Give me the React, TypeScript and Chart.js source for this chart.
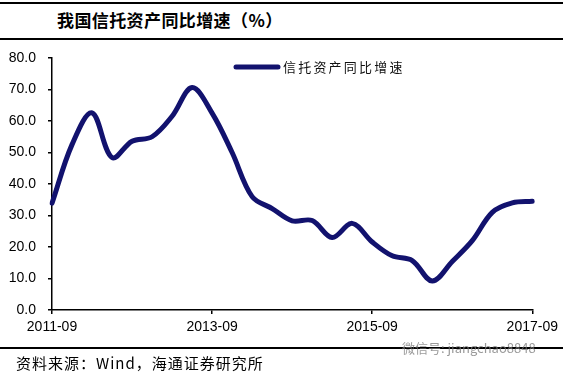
import React, { useEffect, useRef } from "react";
import { Chart, registerables } from "chart.js";

Chart.register(...registerables);

const titleText = "我国信托资产同比增速（%）";
const seriesName = "信托资产同比增速";
const sourceText = "资料来源：Wind，海通证券研究所";
const watermarkText = "微信号: jiangchao8848";

const quarters = [
  "2011-09", "2011-12", "2012-03", "2012-06", "2012-09", "2012-12",
  "2013-03", "2013-06", "2013-09", "2013-12", "2014-03", "2014-06",
  "2014-09", "2014-12", "2015-03", "2015-06", "2015-09", "2015-12",
  "2016-03", "2016-06", "2016-09", "2016-12", "2017-03", "2017-06",
  "2017-09",
];

const growth = [
  33.9, 52.5, 62.6, 48.4, 53.6, 55.0,
  61.5, 70.6, 62.5, 50.0, 36.0, 32.2,
  28.3, 28.4, 23.0, 27.5, 21.6, 17.2,
  15.7, 9.2, 15.4, 22.0, 31.0, 34.0,
  34.5,
];

const shownTickLabels = ["2011-09", "2013-09", "2015-09", "2017-09"];
const yMin = 0;
const yMax = 80;
const yStep = 10;

const LINE_COLOR = "#12126e";

const legendPlugin = {
  id: "insideLegend",
  afterDraw(chart: any) {
    const ctx = chart.ctx;
    const a = chart.chartArea;
    const y = a.top + 9;
    ctx.save();
    ctx.strokeStyle = LINE_COLOR;
    ctx.lineWidth = 5;
    ctx.lineCap = "round";
    ctx.beginPath();
    ctx.moveTo(a.left + 184, y);
    ctx.lineTo(a.left + 226, y);
    ctx.stroke();
    ctx.fillStyle = "#111";
    ctx.font = '13px "Noto Sans CJK SC"';
    ctx.textBaseline = "middle";
    ctx.textAlign = "left";
    const chars = Array.from(seriesName);
    chars.forEach((c, i) => {
      ctx.fillText(c, a.left + 231 + i * 15.2, y);
    });
    ctx.restore();
  },
};

export default function App() {
  const canvasRef = useRef<HTMLCanvasElement | null>(null);

  useEffect(() => {
    if (!canvasRef.current) return;
    const chart = new Chart(canvasRef.current, {
      type: "line",
      data: {
        labels: quarters,
        datasets: [
          {
            label: seriesName,
            data: growth,
            borderColor: LINE_COLOR,
            backgroundColor: LINE_COLOR,
            borderWidth: 5,
            pointRadius: 0,
            tension: 0.35,
            borderCapStyle: "round",
            borderJoinStyle: "round",
            fill: false,
          },
        ],
      },
      options: {
        animation: false,
        responsive: false,
        maintainAspectRatio: false,
        layout: { padding: { left: 0, right: 30, top: 58, bottom: 0 } },
        plugins: {
          legend: { display: false },
          tooltip: { enabled: false },
          title: { display: false },
        },
        scales: {
          x: {
            type: "category",
            offset: false,
            grid: {
              display: true,
              drawOnChartArea: false,
              drawTicks: true,
              tickLength: 4,
              lineWidth: 1.5,
              color: (ctx: any) =>
                shownTickLabels.includes(quarters[ctx.index]) ? "#000" : "rgba(0,0,0,0)",
            },
            border: { display: true, color: "#000", width: 1.5 },
            ticks: {
              autoSkip: false,
              maxRotation: 0,
              minRotation: 0,
              padding: 5,
              color: "#000",
              font: { family: '"Liberation Sans", Arial, sans-serif', size: 14 },
              callback: (_v: any, i: number) =>
                shownTickLabels.includes(quarters[i]) ? quarters[i] : "",
            },
            afterFit: (s: any) => {
              s.height = 64;
            },
          },
          y: {
            min: yMin,
            max: yMax,
            grid: {
              display: true,
              drawOnChartArea: false,
              drawTicks: true,
              tickLength: 4,
              lineWidth: 1.5,
              color: "#000",
            },
            border: { display: true, color: "#000", width: 1.5 },
            ticks: {
              stepSize: yStep,
              padding: 12,
              color: "#000",
              font: { family: '"Liberation Sans", Arial, sans-serif', size: 14 },
              callback: (v: any) => Number(v).toFixed(1),
            },
            afterFit: (s: any) => {
              s.width = 52;
            },
          },
        },
      },
      plugins: [legendPlugin],
    });
    return () => chart.destroy();
  }, []);

  return (
    <div
      style={{
        position: "fixed",
        left: 0,
        top: 0,
        width: 563,
        height: 374,
        background: "#fff",
        overflow: "hidden",
      }}
    >
      <div style={{ position: "absolute", left: 0, top: 2, width: 563, height: 2, background: "#000" }} />
      <div
        style={{
          position: "absolute",
          left: 57,
          top: 11,
          height: 18,
          lineHeight: "18px",
          fontSize: 17,
          fontWeight: 700,
          letterSpacing: "0.4px",
          fontFamily: '"Noto Sans CJK SC", sans-serif',
          color: "#000",
          whiteSpace: "nowrap",
        }}
      >
        {titleText}
      </div>
      <div style={{ position: "absolute", left: 0, top: 38, width: 563, height: 2, background: "#000" }} />
      <canvas
        ref={canvasRef}
        width={563}
        height={374}
        style={{ position: "absolute", left: 0, top: 0, width: 563, height: 374 }}
      />
      <div style={{ position: "absolute", left: 0, top: 347, width: 563, height: 2, background: "#000" }} />
      <div
        style={{
          position: "absolute",
          left: 402,
          top: 340,
          height: 16,
          lineHeight: "16px",
          fontSize: 13,
          fontFamily: '"Noto Sans CJK SC", sans-serif',
          color: "rgba(120,120,120,0.75)",
          whiteSpace: "nowrap",
        }}
      >
        {watermarkText}
      </div>
      <div
        style={{
          position: "absolute",
          left: 16,
          top: 355,
          height: 16,
          lineHeight: "16px",
          fontSize: 15,
          letterSpacing: "1px",
          fontFamily: '"Noto Sans CJK SC", sans-serif',
          color: "#000",
          whiteSpace: "nowrap",
        }}
      >
        {sourceText}
      </div>
    </div>
  );
}
